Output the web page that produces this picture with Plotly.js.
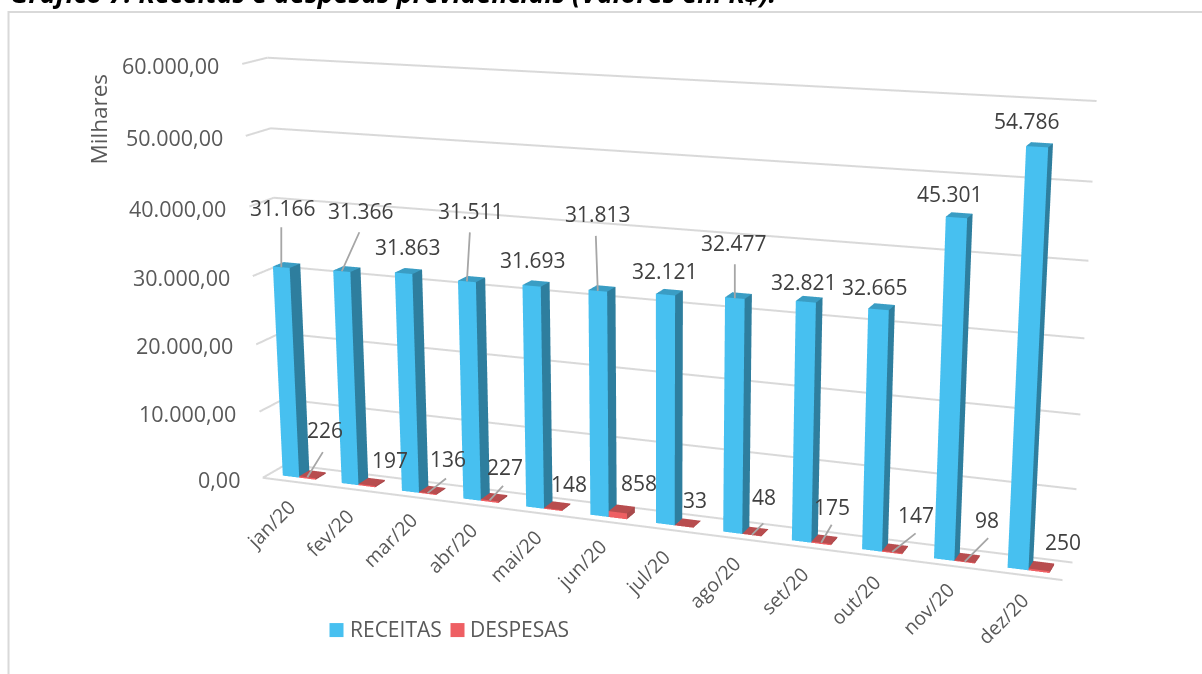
<!DOCTYPE html>
<html><head><meta charset="utf-8"><script src="https://cdn.plot.ly/plotly-3.0.1.min.js"></script>
<style>html,body{margin:0;padding:0;background:#fff;overflow:hidden;width:1202px;height:674px}#c{position:absolute}</style></head>
<body><div id="c"></div>
<script>
const categories=['jan/20','fev/20','mar/20','abr/20','mai/20','jun/20','jul/20','ago/20','set/20','out/20','nov/20','dez/20'];
const receitas=[31166,31366,31863,31511,31693,31813,32121,32477,32821,32665,45301,54786];
const despesas=[226,197,136,227,148,858,33,48,175,147,98,250];
const gridValues=[0,10000,20000,30000,40000,50000,60000];
const gridLabels=['0,00','10.000,00','20.000,00','30.000,00','40.000,00','50.000,00','60.000,00'];
// label placement (pixels, relative to the bar's top): text offset, leader-line end or null
const recOffsets=[[2,-59],[19,-60],[4,-26],[4,-70],[1,-26],[0,-77],[0,-24],[-1,-55],[-2,-20],[-3,-22],[-6,-24],[-10,-26]];
const recLeaders=[[0,-41],[18,-40],null,[3,-50],null,[-2,-56],null,[0,-35],null,null,null,null];
const desOffsets=[[18,-47],[23,-25],[20,-34],[15,-33],[16,-25],[21,-29],[11,-26],[12,-38],[11,-36],[24,-37],[22,-42],[24,-28]];
const desLeaders=[[16,-26],null,[19,-15],[14,-15],null,null,null,[12,-12],[11,-19],[24,-19],[24,-24],null];
// the 3D view that matches the reference's perspective
const CAM={eye:{x:0.90375,y:-2.34159,z:0.62171},center:{x:-0.04014,y:0.05456,z:-0.09289},up:{x:0.02271,y:-0.04772,z:1}};
const ASPECT={x:1,y:0.05849,z:0.51698};
const PX=630,PY=368,H=1859.5,W=3347.1,L=PX-W/2,T=PY-H/2;
const el=document.getElementById('c');el.style.left=L+'px';el.style.top=T+'px';el.style.width=W+'px';el.style.height=H+'px';
const px=x=>(x-L)/W,py=y=>1-(y-T)/H;
const FRONT=.28,BACK=.72,X0=.23,XM=.51,X1=.79;
const xv=[],yv=[],zv=[],I=[],J=[],K=[],FC=[];
function addBar(x0,x1,y0,y1,z1,cf,cs,ct){const b=xv.length;[[x0,y0,0],[x1,y0,0],[x1,y1,0],[x0,y1,0],[x0,y0,z1],[x1,y0,z1],[x1,y1,z1],[x0,y1,z1]].forEach(p=>{xv.push(p[0]);yv.push(p[1]);zv.push(p[2])});
 [[0,1,5,cf],[0,5,4,cf],[1,2,6,cs],[1,6,5,cs],[4,5,6,ct],[4,6,7,ct]].forEach(t=>{I.push(b+t[0]);J.push(b+t[1]);K.push(b+t[2]);FC.push(t[3])})}
categories.forEach((c,i)=>{addBar(i+X0,i+XM,FRONT,BACK,receitas[i],'#47C0F0','#2E7E9E','#3A9DC4');addBar(i+XM,i+X1,FRONT,BACK,despesas[i],'#EE5F63','#A84A4C','#B84D4F')});
const gx=[],gy=[],gz=[];gridValues.forEach(z=>{gx.push(0,0,12,null);gy.push(0,1,1,null);gz.push(z,z,z,null)});gx.push(0,12);gy.push(0,0);gz.push(0,0);
const data=[{type:'mesh3d',x:xv,y:yv,z:zv,i:I,j:J,k:K,facecolor:FC,flatshading:true,lighting:{ambient:1,diffuse:0,specular:0,roughness:1,fresnel:0},hoverinfo:'skip'},
{type:'scatter3d',mode:'lines',x:gx,y:gy,z:gz,line:{color:'#D9D9D9',width:4},hoverinfo:'skip',showlegend:false}];
const FF='"Open Sans", sans-serif';
const sa=[];
gridValues.forEach((v,i)=>sa.push({x:0,y:0,z:v,text:gridLabels[i],showarrow:false,xanchor:'right',xshift:-21,yshift:-1.5,font:{family:FF,size:21.5,color:'#595959'}}));
categories.forEach((c,i)=>sa.push({x:i+.5,y:0,z:0,text:c,showarrow:false,textangle:-45,xshift:-22,yshift:-43,font:{family:FF,size:19.5,color:'#595959'}}));
function lab(i,val,xf,o,l){const x=i+xf;const t=val.toLocaleString('de-DE');
 sa.push({x,y:FRONT,z:val,text:t,showarrow:false,xshift:o[0],yshift:-o[1],font:{family:FF,size:21,color:'#404040'}});
 if(l)sa.push({x,y:FRONT,z:val,text:'\u00a0',font:{size:1,color:'#fff'},showarrow:true,arrowhead:0,arrowwidth:1.8,arrowcolor:'#A6A6A6',ax:l[0],ay:l[1],standoff:0,borderpad:0})}
receitas.forEach((v,i)=>lab(i,v,(X0+XM)/2,recOffsets[i],recLeaders[i]));
despesas.forEach((v,i)=>lab(i,v,(XM+X1)/2,desOffsets[i],desLeaders[i]));
const ax0={visible:false,showgrid:false,zeroline:false,showbackground:false};
const pa=(x,y,text,size,color,extra)=>({xref:'paper',yref:'paper',x:px(x),y:py(y),text,showarrow:false,font:{family:FF,size,color},...extra});
const layout={width:W,height:H,margin:{l:0,r:0,t:0,b:0},paper_bgcolor:'#fff',showlegend:false,
shapes:[{type:'rect',xref:'paper',yref:'paper',x0:px(9),x1:px(1400),y0:py(12),y1:py(900),line:{color:'#D9D9D9',width:2}},
{type:'rect',xref:'paper',yref:'paper',x0:px(330),x1:px(344),y0:py(623),y1:py(637),fillcolor:'#47C0F0',line:{width:0}},
{type:'rect',xref:'paper',yref:'paper',x0:px(451),x1:px(465),y0:py(623),y1:py(637),fillcolor:'#EE5F63',line:{width:0}}],
annotations:[pa(8,0,'<b><i>Gráfico 7: Receitas e despesas previdenciais (Valores em R$):</i></b>',26.8,'#000',{xanchor:'left',yanchor:'middle',yshift:7}),
pa(99,120,'Milhares',22.5,'#595959',{textangle:-90}),pa(348,629,'RECEITAS',21,'#595959',{xanchor:'left'}),pa(468,629,'DESPESAS',21,'#595959',{xanchor:'left'})],
scene:{domain:{x:[0,1],y:[0,1]},aspectmode:'manual',aspectratio:ASPECT,camera:CAM,annotations:sa,
xaxis:{...ax0,range:[0,12]},yaxis:{...ax0,range:[0,1]},zaxis:{...ax0,range:[0,60000]}}};
Plotly.newPlot('c',data,layout,{displayModeBar:false});
</script></body></html>
